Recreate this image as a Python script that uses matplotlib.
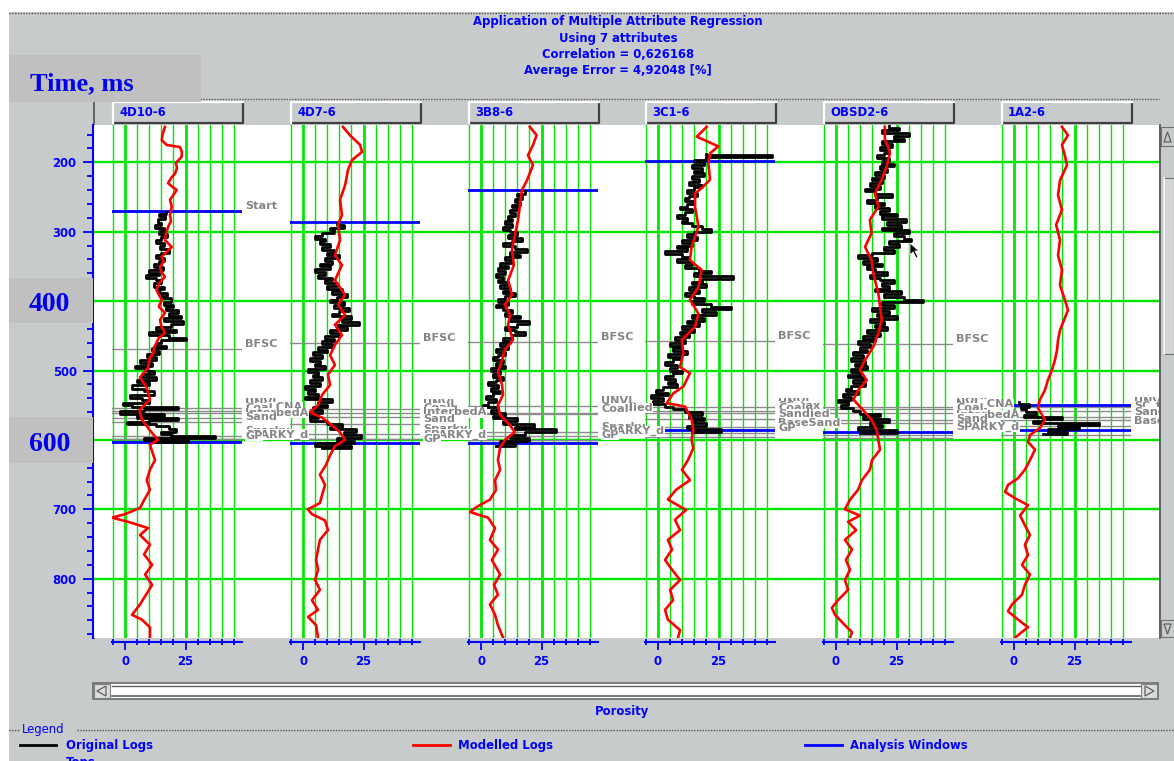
import matplotlib
matplotlib.use("Agg")
import matplotlib.pyplot as plt
from matplotlib.patches import Rectangle, Polygon
from matplotlib.ticker import MultipleLocator, FixedLocator

# ------------------------------------------------------------------ data
WELLS = ["4D10-6", "4D7-6", "3B8-6", "3C1-6", "OBSD2-6", "1A2-6"]
TITLE_LINES = [
    "Application of Multiple Attribute Regression",
    "Using 7 attributes",
    "Correlation = 0,626168",
    "Average Error = 4,92048 [%]",
]
TIME_MAJOR = [200, 300, 400, 500, 600, 700, 800]
POROSITY_LABELS = [0, 25]
POROSITY_GRID = [-5, 0, 5, 10, 15, 20, 25, 30, 35, 40, 45]
POROSITY_BOLD = [0, 25]

# modelled porosity logs: (time ms, porosity)
MODEL_4D10 = [(149, 16.5), (160, 15.5), (168, 15.2), (175, 17.2), (178, 22.7), (185, 23.5), (192, 23.4),
              (201, 21), (208, 21.5), (216, 20.7), (223, 19), (230, 17.8), (235, 19.5), (240, 21.4),
              (247, 20), (254, 18.6), (264, 19.3), (276, 18.6), (285, 19), (293, 17.8), (302, 17),
              (312, 16.5), (322, 19.3), (330, 17), (336, 15.1), (343, 16), (351, 14.5), (358, 15),
              (365, 16.5), (375, 14), (384, 13), (391, 14), (398, 15.2), (408, 14), (417, 16.5),
              (427, 14.5), (436, 15), (446, 16.5), (453, 14), (460, 13), (467, 12), (475, 11.7),
              (481, 10.3), (496, 9.5), (510, 6.2), (525, 9), (542, 10.3), (557, 6), (571, 7),
              (585, 10), (600, 13.6), (607, 10.3), (629, 12.4), (643, 10.3), (658, 9), (672, 10.3),
              (686, 8), (698, 6.2), (707, 0), (712, -5.4), (718, 1.2), (727, 9.5), (737, 6.2),
              (751, 10.3), (765, 7.9), (780, 11.2), (794, 8.3), (809, 11.2), (823, 8.7), (837, 6.2),
              (852, 2.9), (859, 7), (870, 10.3), (885, 10.3)]
MODEL_4D7 = [(149, 16.5), (161, 19.4), (175, 23.6), (185, 24.4), (197, 20.2), (211, 18.6), (233, 17.4),
             (254, 15.3), (276, 16.1), (290, 14.5), (312, 15.3), (334, 13.2), (348, 16.1), (370, 13.2),
             (391, 17.4), (405, 14.5), (420, 17.4), (434, 13.2), (449, 16.1), (463, 13.2), (478, 11.2),
             (492, 13.2), (506, 10.3), (521, 11.2), (535, 7.9), (550, 6.2), (560, 2.9), (568, 7.9),
             (579, 12), (589, 15.3), (600, 17.4), (609, 13.2), (622, 11.2), (636, 9.5), (650, 7),
             (665, 9.1), (679, 7.9), (691, 7), (700, 2), (707, 3.7), (716, 9.1), (730, 10.3),
             (744, 7), (758, 6.2), (773, 5.4), (787, 6.2), (802, 5), (816, 7), (831, 3.7), (845, 6.2),
             (855, 2.1), (867, 5.4), (885, 6.2)]
MODEL_3B8 = [(149, 20.2), (161, 23), (175, 21.5), (190, 19.4), (204, 21.5), (226, 19), (240, 16.9),
             (262, 16.1), (283, 15.3), (305, 14), (326, 12.8), (348, 13.6), (370, 11.2), (391, 12.8),
             (405, 9.9), (420, 12), (434, 11.2), (456, 13.2), (470, 9.9), (485, 8.7), (502, 7),
             (521, 8.7), (535, 9.1), (550, 7), (564, 7.9), (579, 12), (589, 14), (600, 9.9),
             (611, 7.9), (629, 7), (643, 7.9), (658, 5.8), (672, 6.2), (686, 3.7), (697, -2),
             (704, -4.5), (712, 2.9), (727, 5.8), (744, 3.7), (758, 7), (773, 4.5), (794, 7.9),
             (809, 5.4), (823, 7), (837, 3.7), (852, 5.8), (867, 7), (885, 9.1)]
MODEL_3C1 = [(149, 20.1), (163, 16), (177, 24.9), (187, 21.5), (202, 20.8), (225, 21.5), (235, 18.7),
             (245, 15.3), (264, 15.3), (278, 16), (293, 16.7), (307, 15.3), (322, 13.9), (341, 13.2),
             (355, 18), (380, 16.7), (398, 13.2), (418, 16.7), (437, 15.3), (456, 9.8), (475, 10.5),
             (495, 9.1), (504, 13.2), (523, 10.5), (533, 6.3), (547, 3.6), (552, 11.2), (571, 13.9),
             (586, 14.6), (600, 13.9), (612, 14.6), (629, 12.4), (643, 9.9), (658, 13.2), (672, 7.4),
             (686, 4.1), (701, 11.6), (715, 7), (730, 9.1), (744, 4.1), (758, 5.8), (773, 2.9),
             (787, 5.8), (802, 9.1), (816, 5), (831, 6.2), (845, 2.9), (859, 4.1), (874, 9.1),
             (885, 8.3)]
MODEL_OBSD2 = [(149, 20.2), (168, 20.2), (178, 21.6), (187, 22.3), (206, 20.9), (225, 18.9), (245, 16.1),
               (264, 17.5), (283, 14), (302, 14.7), (322, 12), (341, 14.7), (360, 15.4), (389, 17.5),
               (408, 18.2), (427, 18.9), (446, 17.5), (466, 15.4), (485, 12), (499, 9.9), (514, 12.7),
               (528, 9.2), (542, 7.2), (552, 9.9), (571, 14.7), (586, 16.8), (600, 17.5), (614, 18.2),
               (629, 14.9), (643, 14), (658, 10.7), (672, 9.1), (686, 5.8), (700, 3.7), (709, 9.9),
               (718, 5), (730, 8.3), (744, 3.7), (758, 6.6), (773, 4.1), (787, 5.8), (802, 3.7),
               (816, 5), (831, 0.8), (842, -1.7), (852, -0.4), (867, 3.7), (877, 6.6), (885, 5.8)]
MODEL_1A2 = [(149, 19.8), (161, 22.3), (175, 19.8), (190, 21), (204, 21.9), (226, 19), (247, 18.2),
             (269, 19.8), (290, 17.4), (312, 19), (334, 18.2), (355, 19.8), (377, 19), (398, 21),
             (413, 22.3), (427, 20.7), (442, 19), (456, 18.2), (470, 17.8), (485, 16.9), (499, 15.7),
             (514, 14), (528, 12.8), (542, 10.7), (554, 9.9), (564, 11.6), (571, 12.8), (583, 10.7),
             (593, 6.6), (603, 5.8), (614, 8.7), (629, 6.6), (643, 4.5), (655, 1.7), (665, -2.5),
             (675, -3.7), (684, 0.4), (694, 5.8), (709, 2.5), (723, 4.5), (737, 6.6), (751, 4.5),
             (766, 5.8), (780, 3.3), (794, 6.6), (809, 4.5), (823, 3.3), (837, -0.8), (847, -2.5),
             (859, 1.7), (870, 5.8), (879, 2.5), (885, 0.4)]

# original porosity logs inside the analysis windows: (time ms, porosity)
ORIG_4D10 = [(271, 17), (274, 14), (278, 16.5), (282, 13.5), (287, 15), (291, 12.5), (295, 16), (299, 14),
             (303, 17.5), (307, 15), (312, 13), (316, 16), (320, 14.5), (325, 18), (330, 15), (334, 13),
             (338, 16), (342, 14), (347, 12), (351, 15.5), (355, 10), (359, 14), (362, 8.5), (366, 13),
             (370, 15), (374, 12), (379, 16), (383, 14), (388, 17.5), (392, 15), (396, 19), (401, 16),
             (405, 20), (409, 17), (413, 22), (417, 18), (421, 23), (425, 16), (429, 24), (433, 19),
             (437, 13), (441, 21), (445, 10), (449, 18), (453, 25), (456, 15), (460, 13), (464, 17),
             (468, 11), (472, 14), (476, 9), (480, 13), (485, 6), (489, 11), (493, 4), (497, 9),
             (501, 12), (505, 7), (509, 13), (513, 5), (517, 10), (521, 3), (526, 8), (530, 12),
             (535, 2), (539, 7), (543, 10), (547, -1), (550, 3), (553, 22), (556, 8), (559, -2),
             (562, 16), (565, 5), (568, 22), (571, 10), (574, 1), (577, 13), (580, 18), (584, 21),
             (588, 15), (591, 19), (594, 37), (597, 8), (600, 26), (603, 12)]
ORIG_4D7 = [(287, 14), (290, 17), (294, 11), (298, 13), (302, 8), (306, 5), (310, 9), (314, 7), (318, 11),
            (322, 8), (326, 13), (330, 10), (334, 15), (338, 9), (342, 12), (346, 7), (350, 11), (354, 5),
            (358, 9), (362, 6), (366, 12), (370, 9), (374, 14), (378, 10), (382, 16), (386, 12),
            (390, 18), (394, 14), (398, 11), (402, 17), (406, 13), (410, 19), (414, 15), (418, 12),
            (422, 20), (426, 16), (430, 23), (434, 14), (438, 18), (442, 11), (446, 15), (450, 9),
            (454, 13), (458, 8), (462, 12), (466, 6), (470, 10), (474, 4), (478, 8), (482, 3), (486, 7),
            (490, 5), (494, 9), (498, 2), (502, 6), (506, 4), (510, 8), (514, 3), (518, 7), (522, 1),
            (526, 5), (530, 2), (534, 6), (538, 1), (541, 12), (545, 6), (549, 10), (553, 4), (557, 8),
            (561, 2), (565, 6), (569, 3), (573, 10), (577, 16), (581, 11), (585, 22), (589, 17),
            (593, 24), (597, 14), (601, 21), (605, 5), (609, 20), (612, 8)]
ORIG_3B8 = [(241, 18), (245, 15), (249, 17), (253, 14), (257, 16), (261, 13), (265, 15), (269, 12),
            (273, 14), (277, 11), (281, 13), (285, 10), (289, 13), (293, 9), (297, 12), (301, 15),
            (305, 11), (309, 17), (313, 13), (317, 9), (321, 14), (325, 19), (329, 12), (333, 16),
            (337, 10), (341, 13), (345, 8), (349, 11), (353, 7), (357, 10), (361, 6), (365, 9), (369, 7),
            (373, 11), (377, 8), (381, 12), (385, 9), (389, 14), (393, 10), (397, 7), (401, 11), (405, 6),
            (409, 9), (413, 13), (417, 10), (421, 16), (425, 12), (429, 20), (433, 15), (437, 10),
            (441, 14), (445, 18), (449, 13), (453, 9), (457, 12), (461, 8), (465, 11), (469, 6),
            (473, 10), (477, 7), (481, 5), (485, 9), (489, 6), (493, 10), (497, 4), (501, 8), (505, 5),
            (509, 9), (513, 6), (517, 3), (521, 7), (525, 4), (529, 8), (533, 5), (537, 2), (541, 6),
            (545, 3), (549, 1), (553, 7), (557, 4), (561, 10), (565, 5), (569, 15), (573, 9), (577, 22),
            (581, 14), (585, 31), (589, 18), (593, 12), (597, 20), (601, 8), (605, 14), (609, 6)]
ORIG_3C1 = [(188, 20), (190, 47), (193, 20), (197, 15), (200, 19), (204, 14), (208, 18), (212, 15),
            (216, 19), (220, 14), (224, 17), (228, 13), (232, 18), (236, 15), (240, 12), (244, 16),
            (248, 13), (252, 11), (256, 15), (260, 12), (264, 9), (268, 14), (272, 11), (276, 8),
            (280, 12), (284, 10), (288, 14), (292, 18), (296, 22), (300, 15), (304, 12), (308, 16),
            (312, 10), (316, 14), (320, 8), (324, 12), (328, 3), (332, 10), (336, 13), (340, 8),
            (344, 14), (348, 11), (352, 17), (356, 22), (360, 15), (364, 31), (368, 18), (372, 14),
            (376, 20), (380, 13), (384, 17), (388, 11), (392, 15), (396, 19), (400, 14), (404, 22),
            (408, 30), (412, 18), (416, 24), (420, 14), (424, 19), (428, 12), (432, 17), (436, 10),
            (440, 15), (444, 9), (448, 13), (452, 7), (456, 11), (460, 5), (464, 10), (468, 6), (472, 12),
            (476, 4), (480, 9), (484, 6), (488, 3), (492, 8), (496, 5), (500, 10), (504, 6), (508, 3),
            (512, 7), (516, 4), (520, 8), (524, 2), (528, -1), (532, 4), (536, -3), (540, 2), (544, -2),
            (548, 3), (552, 6), (556, 11), (560, 18), (564, 13), (568, 19), (572, 15), (576, 20),
            (580, 12), (584, 26), (588, 14)]
ORIG_OBSD2 = [(146, 22), (150, 26), (154, 19), (158, 30), (162, 24), (166, 28), (170, 19), (174, 23),
              (178, 18), (182, 22), (186, 20), (190, 17), (194, 22), (198, 19), (202, 24), (206, 18),
              (210, 21), (214, 16), (218, 20), (222, 15), (226, 19), (230, 14), (234, 18), (238, 12),
              (242, 16), (246, 23), (250, 17), (254, 13), (258, 20), (262, 16), (266, 22), (270, 18),
              (274, 25), (278, 19), (282, 29), (286, 21), (290, 27), (294, 19), (298, 30), (302, 24),
              (306, 28), (310, 31), (314, 22), (318, 26), (322, 20), (326, 24), (330, 15), (334, 9),
              (338, 17), (342, 11), (346, 19), (350, 13), (354, 16), (358, 21), (362, 14), (366, 18),
              (370, 24), (374, 19), (378, 22), (382, 16), (386, 27), (390, 20), (394, 28), (398, 36),
              (402, 19), (406, 24), (410, 15), (414, 22), (418, 17), (422, 25), (426, 14), (430, 20),
              (434, 16), (438, 21), (442, 13), (446, 18), (450, 11), (454, 16), (458, 9), (462, 14),
              (466, 10), (470, 13), (474, 7), (478, 11), (482, 6), (486, 12), (490, 8), (494, 13),
              (498, 6), (502, 10), (506, 5), (510, 11), (514, 7), (518, 12), (522, 6), (526, 4), (530, 9),
              (534, 3), (538, 6), (542, 1), (546, 5), (550, 2), (554, 7), (558, 10), (562, 18), (566, 11),
              (570, 22), (574, 14), (578, 19), (582, 9), (586, 25), (590, 10)]
ORIG_1A2 = [(545, 2), (548, 6), (552, 3), (556, 5), (560, 9), (564, 4), (567, 20), (570, 12), (573, 8),
            (576, 35), (579, 18), (582, 27), (585, 14), (588, 22), (591, 12)]

# analysis windows (start, end) in ms
WINDOWS = [(270, 603), (286, 604), (240, 604), (198, 586), (140, 588), (550, 586)]

# formation tops per well: (name, time ms)
TOPS_4D10 = [("Start", 270), ("BFSC", 469), ("UNVL", 554), ("NVL_CNA", 559), ("Coal", 561),
             ("InterbedA", 568), ("Sand", 574), ("Sparky", 594), ("SPARKY_d", 599), ("GP", 601)]
TOPS_4D7 = [("BFSC", 460), ("UNVL", 555), ("Coal", 561), ("InterbedA", 567), ("Sand", 577),
            ("Sparky", 591), ("SPARKY_d", 599), ("GP", 605)]
TOPS_3B8 = [("BFSC", 459), ("UNVL", 551), ("Sandied", 561), ("Coal", 562), ("Sparky", 588),
            ("SPARKY_d", 594), ("GP", 600)]
TOPS_3C1 = [("BFSC", 457), ("UNVL", 553), ("SC_tax", 558), ("Coal", 561), ("Sandied", 570),
            ("BaseSand", 582), ("GP", 590), ("", 596)]
TOPS_OBSD2 = [("BFSC", 462), ("UNVL", 553), ("NVL_CNA", 555), ("Coal", 561), ("InterbedA", 571),
              ("Sand", 576), ("SPARKY_d", 588), ("", 593), ("", 597)]
TOPS_1A2 = [("UNVL", 552), ("SC_tax", 558), ("Sand", 567), ("BaseSand", 580), ("", 571), ("", 593)]

MODELLED = [MODEL_4D10, MODEL_4D7, MODEL_3B8, MODEL_3C1, MODEL_OBSD2, MODEL_1A2]
ORIGINAL = [ORIG_4D10, ORIG_4D7, ORIG_3B8, ORIG_3C1, ORIG_OBSD2, ORIG_1A2]
TOPS = [TOPS_4D10, TOPS_4D7, TOPS_3B8, TOPS_3C1, TOPS_OBSD2, TOPS_1A2]

# ------------------------------------------------------------------ style
BG = "#c8cbcc"
BOX = "#c0c0c0"
BLUE = "#0000ff"
GREEN = "#00e800"
GRAY = "#8c8c8c"
UI = dict(family="DejaVu Sans", fontweight="bold", fontsize=8.4, color=BLUE)

W, H = 1174, 761
fig = plt.figure(figsize=(W / 100, H / 100), dpi=100)
fig.patch.set_facecolor(BG)


def frect(x, y, w, h):
    """pixel box (top-left origin) -> figure fraction rect"""
    return [x / W, 1 - (y + h) / H, w / W, h / H]


def pixel_axes(z):
    a = fig.add_axes([0, 0, 1, 1])
    a.set_xlim(0, W)
    a.set_ylim(H, 0)
    a.axis("off")
    a.patch.set_alpha(0)
    a.set_zorder(z)
    return a


ui = pixel_axes(0)
ui_top = pixel_axes(20)

# window chrome
ui.add_patch(Rectangle((0, 0), W, 12, facecolor="white", edgecolor="none"))
ui.add_patch(Rectangle((0, 0), 9, H, facecolor="white", edgecolor="none"))
ui.plot([9, W], [12.5, 12.5], color="#555555", lw=1, ls=(0, (1, 1)))
ui.plot([200, 1159], [98.5, 98.5], color="#555555", lw=1, ls=(0, (1, 1)))
ui.plot([94, 94], [99, 638], color="#505050", lw=1.2)

for i, line in enumerate(TITLE_LINES):
    ui.text(618, 22 + 16.3 * i, line, ha="center", va="center", **UI)

# time / porosity geometry
PPU = 2.42                       # pixels per porosity unit
X0 = [125, 303, 481, 658, 836, 1014]
XMIN, XMAX = -5.5, 48.5
PANEL_TOP, PANEL_BOT = 125, 638
T_TOP = 200 + (PANEL_TOP - 162.3) / 0.694
T_BOT = 200 + (PANEL_BOT - 162.3) / 0.694

# white panel with the time axis
tax = fig.add_axes(frect(93, PANEL_TOP, 1066, PANEL_BOT - PANEL_TOP))
tax.set_zorder(1)
tax.set_facecolor("white")
tax.set_xlim(0, 1)
tax.set_ylim(T_BOT, T_TOP)
for s in ("top", "right", "bottom"):
    tax.spines[s].set_visible(False)
tax.spines["left"].set_color(BLUE)
tax.spines["left"].set_linewidth(1.5)
tax.set_xticks([])
tax.yaxis.set_major_locator(FixedLocator(TIME_MAJOR))
tax.yaxis.set_minor_locator(MultipleLocator(20))
tax.tick_params(axis="y", which="major", length=7.5, width=1.3, color=BLUE, pad=4.3,
                labelcolor=BLUE, labelsize=8.4)
tax.tick_params(axis="y", which="minor", length=4.5, width=1.3, color=BLUE)
for lab in tax.get_yticklabels():
    lab.set_fontweight("bold")
for t in TIME_MAJOR:
    tax.axhline(t, color=GREEN, lw=1.7, zorder=1)

# one axes per well
for i, well in enumerate(WELLS):
    x0 = X0[i]
    left = x0 + XMIN * PPU
    width = (XMAX - XMIN) * PPU
    ax = fig.add_axes(frect(left, PANEL_TOP, width, PANEL_BOT - PANEL_TOP))
    ax.set_zorder(10 - i)           # labels of a well overlay its right neighbour
    ax.patch.set_alpha(0)
    ax.set_xlim(XMIN, XMAX)
    ax.set_ylim(T_BOT, T_TOP)
    ax.axis("off")
    for v in POROSITY_GRID:
        ax.axvline(v, color=GREEN, lw=2.0 if v in POROSITY_BOLD else 1.0, zorder=1)

    for name, t in TOPS[i]:
        ax.axhline(t, color=GRAY, lw=1.0, zorder=2)
        if name:
            ann = ax.annotate(name, xy=(1, t), xycoords=("axes fraction", "data"), xytext=(2, 1.2),
                              textcoords="offset points", ha="left", va="baseline", color="#858585",
                              fontsize=8.1, fontweight="bold", annotation_clip=False, zorder=6,
                              bbox=dict(facecolor="white", edgecolor="none", pad=0.2))
            # tops labels end at the right border of the log panel
            ann.set_clip_box(tax.bbox)
            ann.set_clip_on(True)
    for t in WINDOWS[i]:
        ax.axhline(t, color=BLUE, lw=2.0, zorder=3)

    ot = [p[0] for p in ORIGINAL[i]]
    ov = [p[1] for p in ORIGINAL[i]]
    ax.plot(ov, ot, color="black", lw=2.0, drawstyle="steps-pre", zorder=4)
    mt = [p[0] for p in MODELLED[i]]
    mv = [p[1] for p in MODELLED[i]]
    ax.plot(mv, mt, color="red", lw=1.9, zorder=5)

    # porosity scale under the track
    pax = fig.add_axes(frect(left, 641, width, 0.5))
    pax.set_zorder(3)
    pax.patch.set_alpha(0)
    pax.set_xlim(XMIN, XMAX)
    pax.set_yticks([])
    for s in ("top", "right", "left"):
        pax.spines[s].set_visible(False)
    pax.spines["bottom"].set_color(BLUE)
    pax.spines["bottom"].set_linewidth(1.5)
    pax.xaxis.set_major_locator(FixedLocator(POROSITY_LABELS))
    pax.xaxis.set_minor_locator(FixedLocator(POROSITY_GRID))
    pax.tick_params(axis="x", which="major", direction="out", length=6, width=1.3, color=BLUE,
                    labelcolor=BLUE, labelsize=8.4, pad=4)
    pax.tick_params(axis="x", which="minor", direction="inout", length=4.5, width=1.3, color=BLUE)
    for lab in pax.get_xticklabels():
        lab.set_fontweight("bold")

    # header button
    bx, by, bw, bh = x0 - 12, 102, 130, 21
    ui.add_patch(Rectangle((bx, by), bw, bh, facecolor=BG, edgecolor="none"))
    ui.plot([bx, bx + bw, bx + bw], [by + bh, by + bh, by], color="#404040", lw=1.6)
    ui.plot([bx, bx, bx + bw], [by + bh, by, by], color="white", lw=1.6)
    ui.text(bx + 6, by + bh / 2 + 0.5, well, ha="left", va="center", **UI)

# mouse pointer resting on the OBSD2-6 track
ui_top.add_patch(Polygon([(910, 243), (910, 255), (913, 252), (916, 258), (918, 257), (915, 251),
                          (919, 251)], closed=True, facecolor="black", edgecolor="white", lw=0.6))

# vertical scrollbar
ui.plot([1159.5, 1159.5], [125, 638], color="#505050", lw=1.2)
ui.add_patch(Rectangle((1161, 127), 13, 19, facecolor=BG, edgecolor="#707070", lw=0.8))
ui.add_patch(Polygon([(1164, 142), (1167.5, 132), (1171, 142)], closed=True, facecolor="none",
                     edgecolor="#606060", lw=0.9))
ui.add_patch(Rectangle((1163, 178), 11, 176, facecolor="#d4d6d7", edgecolor="#707070", lw=0.8))
ui.plot([1163.5, 1163.5], [178, 354], color="white", lw=1.2)
ui.add_patch(Rectangle((1161, 620), 13, 17, facecolor=BG, edgecolor="#707070", lw=0.8))
ui.add_patch(Polygon([(1164, 624), (1167.5, 634), (1171, 624)], closed=True, facecolor="none",
                     edgecolor="#606060", lw=0.9))

# horizontal scrollbar
ui.add_patch(Rectangle((93, 683), 1065, 16, facecolor="white", edgecolor="#6a6a6a", lw=1.2))
ui.plot([112, 1140], [685.5, 685.5], color="#606060", lw=1)
ui.plot([112, 1140], [696, 696], color="#606060", lw=1.2)
ui.add_patch(Rectangle((94, 684), 16, 14, facecolor="#dcdcdc", edgecolor="#808080", lw=0.8))
ui.add_patch(Polygon([(106, 686), (97, 691), (106, 696)], closed=True, facecolor="none",
                     edgecolor="#606060", lw=0.9))
ui.add_patch(Rectangle((1141, 684), 16, 14, facecolor="#dcdcdc", edgecolor="#808080", lw=0.8))
ui.add_patch(Polygon([(1145, 686), (1154, 691), (1145, 696)], closed=True, facecolor="none",
                     edgecolor="#606060", lw=0.9))
ui.text(622, 711, "Porosity", ha="center", va="center", **UI)

# legend
ui.plot([9, 19], [729.5, 729.5], color="#555555", lw=1, ls=(0, (1, 1)))
ui.plot([77, W], [729.5, 729.5], color="#555555", lw=1, ls=(0, (1, 1)))
ui.text(22, 729, "Legend", ha="left", va="center", family="DejaVu Sans", fontsize=8.4,
        color=BLUE)
ui.plot([20, 56], [745, 745], color="black", lw=2)
ui.text(66, 745, "Original Logs", ha="left", va="center", **UI)
ui.plot([413, 450], [745, 745], color="red", lw=2)
ui.text(458, 745, "Modelled Logs", ha="left", va="center", **UI)
ui.plot([805, 842], [745, 745], color=BLUE, lw=2)
ui.text(850, 745, "Analysis Windows", ha="left", va="center", **UI)
ui.text(66, 756, "Tops", ha="left", va="top", **UI)

# big overlay captions
SERIF = dict(family="Liberation Serif", fontweight="bold", color="#0000ee")
ui_top.add_patch(Rectangle((9, 55), 192, 47, facecolor=BOX, edgecolor="none"))
ui_top.text(30, 90.5, "Time, ms", ha="left", va="baseline", fontsize=19, **SERIF)
ui_top.add_patch(Rectangle((9, 278), 84, 45, facecolor=BOX, edgecolor="none"))
ui_top.text(49.5, 311, "400", ha="center", va="baseline", fontsize=20, **SERIF)
ui_top.add_patch(Rectangle((9, 417), 84, 46, facecolor=BOX, edgecolor="none"))
ui_top.text(49.5, 451, "600", ha="center", va="baseline", fontsize=20, **SERIF)

fig.savefig("out.png", dpi=100, facecolor=fig.get_facecolor())
